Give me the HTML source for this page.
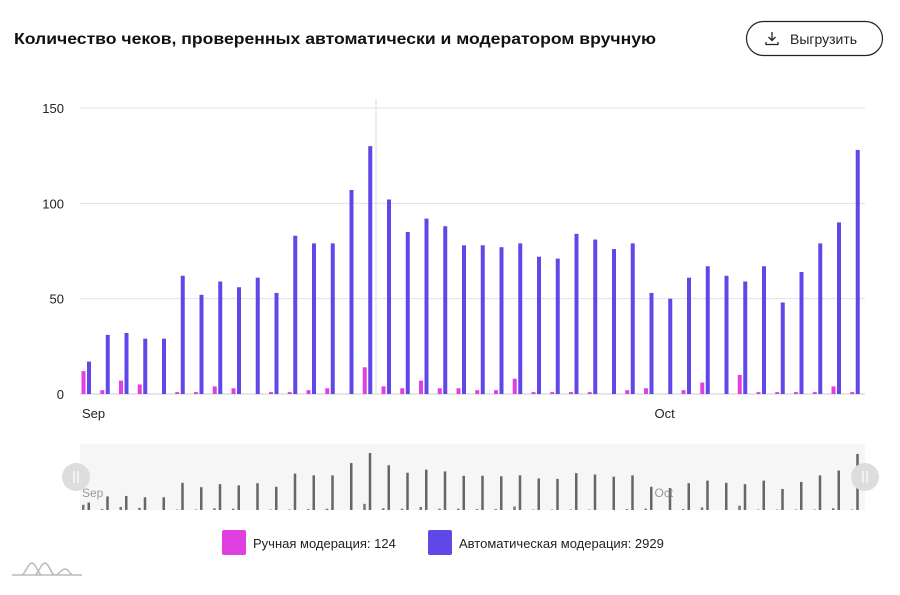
<!DOCTYPE html>
<html><head><meta charset="utf-8"><style>
body{margin:0;background:#fff;width:900px;height:595px;overflow:hidden;font-family:"Liberation Sans",sans-serif}
svg{display:block}
</style></head><body>
<svg id="chart" width="900" height="595" viewBox="0 0 900 595">
<text x="14" y="44" font-size="16" font-weight="bold" fill="#111" textLength="642" lengthAdjust="spacingAndGlyphs">Количество чеков, проверенных автоматически и модератором вручную</text>
<g>
<rect x="746.5" y="21.5" width="136" height="34" rx="17" fill="#fff" stroke="#222" stroke-width="1.2"/>
<path d="M772 32v8M768.5 37l3.5 3.5 3.5-3.5M766 42v2.5h12V42" stroke="#222" stroke-width="1.3" fill="none"/>
<text x="790" y="44" font-size="14" fill="#222">Выгрузить</text>
</g>
<g id="grid"></g>
<line x1="376" y1="99" x2="376" y2="394" stroke="#ddd"/>
<g id="bars"></g>
<g id="nav"></g>
<g>
<g><rect x="222" y="530" width="24" height="25" rx="2" fill="#e040e0"/><text x="253" y="548" font-size="13" fill="#222">Ручная модерация: 124</text></g>
<g><rect x="428" y="530" width="24" height="25" rx="2" fill="#6048e8"/><text x="459" y="548" font-size="13" fill="#222">Автоматическая модерация: 2929</text></g>
</g>
<path d="M12 575h70M22 575c4-2 6-12 10-12s6 12 10 12M35 575c4-2 6-12 10-12s6 12 10 12c4 0 6-6 10-6s5 6 8 6" stroke="#bbb" stroke-width="1.5" fill="none"/>
</svg>
<script>
const categories=Array.from({length:42},(_,i)=>i<30?'Sep '+(i+1):'Oct '+(i-29));
const manual=[12,2,7,5,0,1,1,4,3,0,1,1,2,3,0,14,4,3,7,3,3,2,2,8,1,1,1,1,0,2,3,0,2,6,0,10,1,1,1,1,4,1];
const auto=[17,31,32,29,29,62,52,59,56,61,53,83,79,79,107,130,102,85,92,88,78,78,77,79,72,71,84,81,76,79,53,50,61,67,62,59,67,48,64,79,90,128];
const yTicks=[0,50,100,150];
const xLabels=[{i:0,t:'Sep'},{i:30,t:'Oct'}];
const NS='http://www.w3.org/2000/svg';
function mk(tag,a,p){const e=document.createElementNS(NS,tag);for(const k in a)e.setAttribute(k,a[k]);p.appendChild(e);return e;}
const y=v=>394-v*286/150;
const x=i=>86+i*18.75;
const lx=i=>i===0?x(i)-4:x(i)+6;
const grid=document.getElementById('grid'),bars=document.getElementById('bars'),nav=document.getElementById('nav');
yTicks.forEach(t=>{
 const l=mk('line',{x1:80,x2:865,y1:y(t),y2:y(t),stroke:t?'#e2e2e2':'#ccc'},grid);
 
 
 const tx=mk('text',{x:64,y:y(t)+5,'font-size':13,fill:'#222','text-anchor':'end'},grid);tx.textContent=t;
 
 
});
xLabels.forEach(d=>{
 const tx=mk('text',{x:lx(d.i),y:418,'font-size':13,fill:'#222'},grid);tx.textContent=d.t;
 
 
});
categories.forEach((c,i)=>{
 if(manual[i]>0){const r=mk('rect',{x:x(i)-4.5,y:y(manual[i]),width:4,height:394-y(manual[i]),fill:'#e040e0'},bars);
 
 }
 const b=mk('rect',{x:x(i)+1,y:y(auto[i]),width:4,height:394-y(auto[i]),fill:'#6048e8'},bars);
 
 
});
const nb=mk('rect',{x:80,y:444,width:785,height:66,fill:'#f6f6f6'},nav);


const ny=v=>510-v*57/130;
categories.forEach((c,i)=>{
 if(manual[i]>0){const r=mk('rect',{x:x(i)-4,y:ny(manual[i]),width:2.5,height:510-ny(manual[i]),fill:'#777'},nav);
 
 }
 const b=mk('rect',{x:x(i)+1.5,y:ny(auto[i]),width:2.5,height:510-ny(auto[i]),fill:'#666'},nav);
 
 
});
xLabels.forEach(d=>{const tx=mk('text',{x:lx(d.i),y:497,'font-size':12,fill:'#999'},nav);tx.textContent=d.t;
 
 });
[76,865].forEach((hx,k)=>{
 const g=mk('g',{},nav);
 
 
 mk('circle',{cx:hx,cy:477,r:14,fill:'#ddd'},g);
 mk('path',{d:`M${hx-2} 471v12M${hx+2} 471v12`,stroke:'#fff','stroke-width':1.2},g);
});
</script>
</body></html>
